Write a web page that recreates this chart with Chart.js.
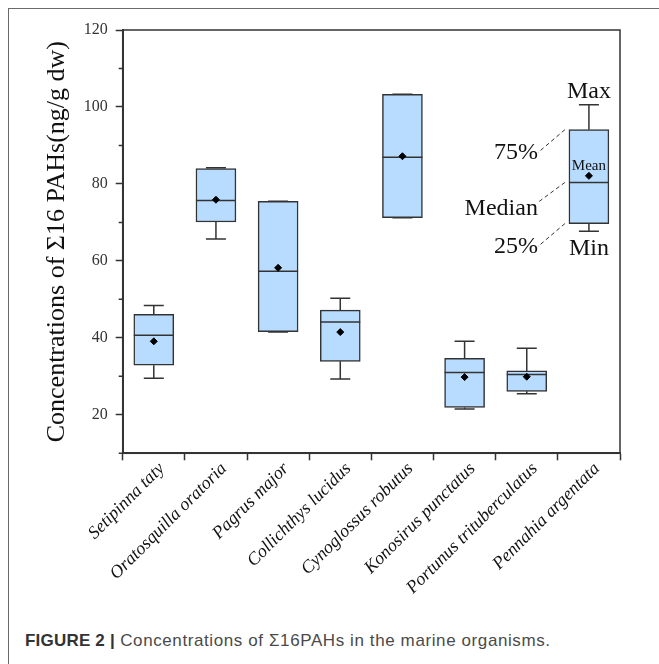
<!DOCTYPE html>
<html><head><meta charset="utf-8">
<script src="https://cdn.jsdelivr.net/npm/chart.js@4.4.0/dist/chart.umd.min.js"></script>
<style>
html,body{margin:0;padding:0;background:#fff;width:659px;height:664px;overflow:hidden;}
#frameTop{position:absolute;left:8px;top:8px;width:651px;height:0;border-top:1px solid #6a6a6a;}
#frameLeft{position:absolute;left:8px;top:8px;width:0;height:656px;border-left:1px solid #6a6a6a;}
#wrap{position:absolute;left:0;top:0;width:659px;height:600px;}
#caption{position:absolute;left:25px;top:631px;font-family:"Liberation Sans",Arial,sans-serif;font-size:17px;letter-spacing:0.6px;color:#4a4a4a;white-space:nowrap;}
#caption b{color:#333;letter-spacing:0.2px}
</style></head><body>
<div id="frameTop"></div><div id="frameLeft"></div>
<div id="wrap"><canvas id="c"></canvas></div>
<div id="caption"><b>FIGURE 2 |</b> Concentrations of Σ16PAHs in the marine organisms.</div>
<script>
const categories = ["Setipinna taty","Oratosquilla oratoria","Pagrus major","Collichthys lucidus","Cynoglossus robutus","Konosirus punctatus","Portunus trituberculatus","Pennahia argentata"];
const minValues    = [29.5, 65.7, 41.5, 29.3, 71.2, 21.5, 25.5, 67.7];
const q1Values     = [32.9, 70.1, 41.6, 33.9, 71.2, 21.9, 26.1, 69.7];
const medianValues = [40.7, 75.7, 57.3, 44.1, 86.9, 31.0, 30.5, 80.4];
const meanValues   = [39.1, 75.9, 58.2, 41.5, 87.2, 29.8, 29.9, 82.1];
const q3Values     = [46.1, 84.0, 75.5, 47.2, 103.3, 34.7, 31.4, 94.1];
const maxValues    = [48.4, 84.2, 75.5, 50.3, 103.3, 39.1, 37.3, 100.6];
const yTickValues  = [10, 20, 30, 40, 50, 60, 70, 80, 90, 100, 110, 120];
const yMajorStep = 20;
const legendIndex = 7;

const boxParts = {
  id: 'boxParts',
  afterDatasetDraw(chart, args) {
    if (args.index !== 0) return;
    const ctx = chart.ctx, y = chart.scales.y;
    const els = chart.getDatasetMeta(0).data;
    ctx.save();
    ctx.strokeStyle = '#333';
    ctx.lineWidth = 1.5;
    els.forEach((el, i) => {
      const cx = el.x, hw = el.width / 2, cap = 10;
      const yMax = y.getPixelForValue(maxValues[i]), yQ3 = y.getPixelForValue(q3Values[i]);
      const yMin = y.getPixelForValue(minValues[i]), yQ1 = y.getPixelForValue(q1Values[i]);
      const yMed = y.getPixelForValue(medianValues[i]);
      ctx.beginPath();
      ctx.moveTo(cx, yQ3); ctx.lineTo(cx, yMax);
      ctx.moveTo(cx - cap, yMax); ctx.lineTo(cx + cap, yMax);
      ctx.moveTo(cx, yQ1); ctx.lineTo(cx, yMin);
      ctx.moveTo(cx - cap, yMin); ctx.lineTo(cx + cap, yMin);
      ctx.moveTo(cx - hw, yMed); ctx.lineTo(cx + hw, yMed);
      ctx.stroke();
    });
    ctx.restore();
  },
  afterDatasetsDraw(chart) {
    const ctx = chart.ctx, y = chart.scales.y, a = chart.chartArea;
    ctx.save();
    ctx.strokeStyle = '#333';
    ctx.lineWidth = 1.5;
    ctx.strokeRect(a.left, a.top, a.right - a.left, a.bottom - a.top);
    ctx.beginPath();
    yTickValues.forEach(v => {
      if (v % yMajorStep !== 0) {
        const py = y.getPixelForValue(v);
        ctx.moveTo(a.left - 4, py); ctx.lineTo(a.left, py);
      }
    });
    ctx.stroke();
    const el = chart.getDatasetMeta(0).data[legendIndex];
    const i = legendIndex, cx = el.x, left = el.x - el.width / 2;
    const yMax = y.getPixelForValue(maxValues[i]), yQ3 = y.getPixelForValue(q3Values[i]);
    const yMin = y.getPixelForValue(minValues[i]), yQ1 = y.getPixelForValue(q1Values[i]);
    const yMed = y.getPixelForValue(medianValues[i]), yMean = y.getPixelForValue(meanValues[i]);
    ctx.fillStyle = '#111';
    ctx.font = '24px "Liberation Serif", "Times New Roman", serif';
    ctx.textBaseline = 'middle';
    ctx.textAlign = 'center';
    ctx.fillText('Max', cx, yMax - 13);
    ctx.fillText('Min', cx, yMin + 17);
    ctx.font = '15px "Liberation Serif", "Times New Roman", serif';
    ctx.fillText('Mean', cx, yMean - 10);
    ctx.font = '24px "Liberation Serif", "Times New Roman", serif';
    ctx.textAlign = 'right';
    ctx.strokeStyle = '#333';
    ctx.lineWidth = 1;
    ctx.setLineDash([4, 3]);
    const leaders = [[yQ3, '75%', 23], [yMed, 'Median', 20], [yQ1, '25%', 23]];
    leaders.forEach(([py, txt, dy]) => {
      ctx.beginPath();
      ctx.moveTo(left - 4, py);
      ctx.lineTo(left - 31, py + dy);
      ctx.stroke();
      ctx.fillText(txt, left - 31, py + dy + (txt === 'Median' ? 6 : 0));
    });
    ctx.restore();
  }
};

new Chart(document.getElementById('c'), {
  type: 'bar',
  data: {
    labels: categories,
    datasets: [
      {
        type: 'bar',
        data: q1Values.map((q, i) => [q, q3Values[i]]),
        backgroundColor: '#b8dcff',
        borderColor: '#333',
        borderWidth: 1.5,
        borderSkipped: false,
        barThickness: 40,
        order: 2
      },
      {
        type: 'line',
        data: meanValues,
        showLine: false,
        pointStyle: 'rectRot',
        pointRadius: 3.5,
        pointHoverRadius: 3.5,
        backgroundColor: '#000',
        borderColor: '#000',
        order: 1
      }
    ]
  },
  options: {
    responsive: true,
    maintainAspectRatio: false,
    animation: false,
    events: [],
    layout: { padding: { top: 30, right: 39, left: 0, bottom: 0 } },
    plugins: { legend: { display: false }, tooltip: { enabled: false } },
    scales: {
      x: {
        type: 'category',
        afterFit(s) { s.height = 146.7; },
        grid: { drawOnChartArea: false, tickLength: 7, tickColor: '#333', tickWidth: 1.5 },
        border: { color: '#333', width: 2 },
        ticks: {
          maxRotation: 45, minRotation: 45, padding: -2, labelOffset: 8, color: '#111',
          font: { family: '"Liberation Serif", "Times New Roman", serif', size: 18, style: 'italic' }
        }
      },
      y: {
        min: 10, max: 120,
        afterFit(s) { s.width = 122.7; },
        afterBuildTicks(s) { s.ticks = yTickValues.map(v => ({ value: v })); },
        grid: {
          drawOnChartArea: false, tickLength: 7, tickWidth: 1.5,
          tickColor: c => (c.tick && c.tick.value % yMajorStep === 0) ? '#333' : 'rgba(0,0,0,0)'
        },
        border: { color: '#333', width: 2 },
        ticks: {
          padding: 8, color: '#333',
          font: { family: '"Liberation Serif", "Times New Roman", serif', size: 16 },
          callback: v => (v % yMajorStep === 0 ? String(v) : '')
        },
        title: {
          display: true,
          text: 'Concentrations of Σ16 PAHs(ng/g dw)',
          color: '#111',
          font: { family: '"Liberation Serif", "Times New Roman", serif', size: 26 },
          padding: { top: 42, bottom: 0 }
        }
      }
    }
  },
  plugins: [boxParts]
});
</script>
</body></html>
